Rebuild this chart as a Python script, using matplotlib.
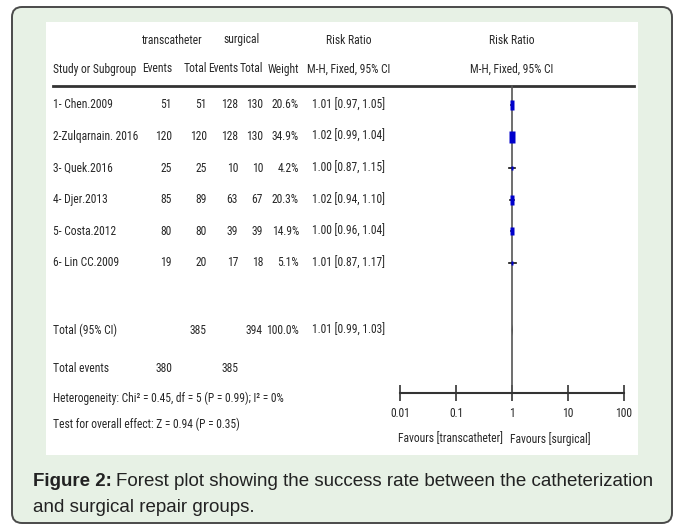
import matplotlib
matplotlib.use('Agg')
import matplotlib.pyplot as plt
from matplotlib import font_manager
from matplotlib.font_manager import FontProperties
from matplotlib.patches import FancyBboxPatch, Rectangle, Polygon

# study data
studies = ['1- Chen.2009', '2-Zulqarnain. 2016', '3- Quek.2016', '4- Djer.2013',
           '5- Costa.2012', '6- Lin CC.2009']
tc_events = [51, 120, 25, 85, 80, 19]
tc_total = [51, 120, 25, 89, 80, 20]
sg_events = [128, 128, 10, 63, 39, 17]
sg_total = [130, 130, 10, 67, 39, 18]
weights = [20.6, 34.9, 4.2, 20.3, 14.9, 5.1]
rr = [1.01, 1.02, 1.00, 1.02, 1.00, 1.01]
ci_lo = [0.97, 0.99, 0.87, 0.94, 0.96, 0.87]
ci_hi = [1.05, 1.04, 1.15, 1.10, 1.04, 1.17]

total_tc, total_sg = 385, 394
events_tc, events_sg = 380, 385
total_rr, total_lo, total_hi = 1.01, 0.99, 1.03
total_label = '1.01 [0.99, 1.03]'
het_text = 'Heterogeneity: Chi\u00b2 = 0.45, df = 5 (P = 0.99); I\u00b2 = 0%'
test_text = 'Test for overall effect: Z = 0.94 (P = 0.35)'

ticks = [0.01, 0.1, 1, 10, 100]
tick_labels = ['0.01', '0.1', '1', '10', '100']

# look for a narrow / condensed font file for the table text
narrow_file = None
files = font_manager.findSystemFonts() + [f.fname for f in font_manager.fontManager.ttflist]
for key in ['LiberationSansNarrow-Regular', 'RobotoCondensed-Regular', 'Roboto_Condensed',
            'DejaVuSansCondensed.ttf', 'Condensed-Regular', 'Narrow']:
    hits = [f for f in files if key.lower() in f.lower() and 'bold' not in f.lower()
            and 'italic' not in f.lower() and 'oblique' not in f.lower()]
    if hits:
        narrow_file = hits[0]
        break

FS = 8.3 if narrow_file else 7.2
if narrow_file:
    NP = FontProperties(fname=narrow_file, size=FS)
else:
    NP = FontProperties(family='DejaVu Sans', size=FS)

names = {f.name for f in font_manager.fontManager.ttflist}
CAPTION = 'Liberation Sans' if 'Liberation Sans' in names else 'DejaVu Sans'
TXT = '#262626'

W, H = 677, 530
fig = plt.figure(figsize=(W / 100, H / 100), dpi=100)
fig.patch.set_facecolor('white')

# background axes in pixel coordinates
bg = fig.add_axes([0, 0, 1, 1])
bg.set_xlim(0, W)
bg.set_ylim(H, 0)
bg.axis('off')

bg.add_patch(FancyBboxPatch((12, 7), 660, 516, boxstyle='round,pad=0,rounding_size=10',
                            facecolor='#e7f1e5', edgecolor='#4a4a4a', linewidth=1.4))
bg.add_patch(Rectangle((46, 22), 592, 433, facecolor='white', edgecolor='none'))

def t(x, y, s, ha='left'):
    bg.text(x, y, s, ha=ha, va='center', fontproperties=NP, color=TXT)

# layout
x_study = 53
x_tce, x_tct, x_sge, x_sgt, x_w = 172, 207, 238, 263, 299
x_ci = 349
y_h1, y_h2, y_line = 40, 69, 86
y_rows = [105 + 31.6 * i for i in range(len(studies))]
y_total, y_events, y_het, y_test = 330, 369, 398, 424

# headers
t(172, y_h1, 'transcatheter', ha='center')
t(242, y_h1, 'surgical', ha='center')
t(x_ci, y_h1, 'Risk Ratio', ha='center')
t(512, y_h1, 'Risk Ratio', ha='center')
t(x_study, y_h2, 'Study or Subgroup')
t(x_tce, y_h2, 'Events', ha='right')
t(x_tct, y_h2, 'Total', ha='right')
t(x_sge, y_h2, 'Events', ha='right')
t(x_sgt, y_h2, 'Total', ha='right')
t(x_w, y_h2, 'Weight', ha='right')
t(x_ci, y_h2, 'M-H, Fixed, 95% CI', ha='center')
t(512, y_h2, 'M-H, Fixed, 95% CI', ha='center')
bg.plot([53, 634], [y_line, y_line], color='#333333', lw=2)

for i, y in enumerate(y_rows):
    t(x_study, y, studies[i])
    t(x_tce, y, str(tc_events[i]), ha='right')
    t(x_tct, y, str(tc_total[i]), ha='right')
    t(x_sge, y, str(sg_events[i]), ha='right')
    t(x_sgt, y, str(sg_total[i]), ha='right')
    t(x_w, y, f'{weights[i]:.1f}%', ha='right')
    t(x_ci, y, f'{rr[i]:.2f} [{ci_lo[i]:.2f}, {ci_hi[i]:.2f}]', ha='center')

t(x_study, y_total, 'Total (95% CI)')
t(x_tct, y_total, str(total_tc), ha='right')
t(x_sgt, y_total, str(total_sg), ha='right')
t(x_w, y_total, '100.0%', ha='right')
t(x_ci, y_total, total_label, ha='center')
t(x_study, y_events, 'Total events')
t(x_tce, y_events, str(events_tc), ha='right')
t(x_sge, y_events, str(events_sg), ha='right')
t(x_study, y_het, het_text)
t(x_study, y_test, test_text)

t(503, 439, 'Favours [transcatheter]', ha='right')
t(510, 439, 'Favours [surgical]', ha='left')

# forest axes, log scale, same vertical pixel space
y_axis = 393
fa = fig.add_axes([400 / W, 0, 224 / W, 1])
fa.patch.set_visible(False)
fa.set_xscale('log')
fa.set_xlim(0.01, 100)
fa.set_ylim(H, 0)
for side in ['top', 'left', 'right']:
    fa.spines[side].set_visible(False)
fa.spines['bottom'].set_position(('data', y_axis))
fa.spines['bottom'].set_linewidth(1.5)
fa.spines['bottom'].set_color('#333333')
fa.set_yticks([])
fa.set_xticks(ticks)
fa.set_xticklabels(tick_labels, color=TXT)
for lab in fa.get_xticklabels():
    lab.set_fontproperties(NP)
fa.minorticks_off()
fa.tick_params(axis='x', direction='inout', length=12, width=1.2, color='#333333', pad=4)

fa.plot([1, 1], [y_line, y_axis], color='#555555', lw=1.2)

rect = [(-0.2, -0.5), (0.2, -0.5), (0.2, 0.5), (-0.2, 0.5), (-0.2, -0.5)]
for i, y in enumerate(y_rows):
    fa.plot([ci_lo[i], ci_hi[i]], [y, y], color='#111111', lw=1.2)
    size = 2.2 * weights[i] ** 0.5 / 1.389
    fa.plot(rr[i], y, marker=rect, markersize=size, color='#0000cc', mec='none')

fa.add_patch(Polygon([(total_lo, y_total), (total_rr, y_total - 6),
                      (total_hi, y_total), (total_rr, y_total + 6)],
                     closed=True, facecolor='#222222', edgecolor='none'))

# caption
cap_fs = 13.5
fig_lbl = bg.text(33, 482, 'Figure 2:', fontsize=cap_fs, family=CAPTION, weight='bold',
                  color='#222222', va='center', ha='left')
fig.canvas.draw()
ext = fig_lbl.get_window_extent()
x_next = bg.transData.inverted().transform((ext.x1, ext.y0))[0] + 4
bg.text(x_next, 482, 'Forest plot showing the success rate between the catheterization',
        fontsize=cap_fs, family=CAPTION, color='#222222', va='center', ha='left')
bg.text(33, 507, 'and surgical repair groups.', fontsize=cap_fs, family=CAPTION,
        color='#222222', va='center', ha='left')

fig.savefig('out.png', dpi=100)
